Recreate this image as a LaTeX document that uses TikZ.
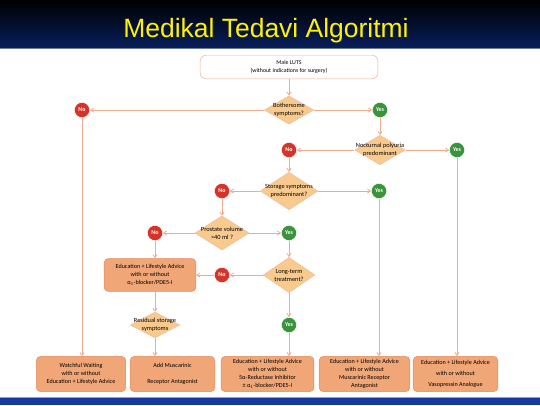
\documentclass[tikz,border=0pt]{standalone}
\usepackage{fontspec}
\setmainfont{Carlito}
\newfontfamily\titlefont{Liberation Sans}
\usepackage{tikz}
\usetikzlibrary{
	shapes.geometric,
	arrows.meta,
	positioning
}
\definecolor{arrowc}{RGB}{238,172,142}
\definecolor{boxfill}{RGB}{240,166,118}
\definecolor{boxdraw}{RGB}{226,140,92}
\definecolor{dfill}{RGB}{249,202,142}
\definecolor{redc}{RGB}{214,52,40}
\definecolor{greenc}{RGB}{58,148,60}
\definecolor{navy}{RGB}{8,30,92}
\definecolor{bandblue}{RGB}{22,58,160}

\begin{document}
\begin{tikzpicture}[
				x=0.85pt, y=-0.85pt,
				startbox/.style={
					rectangle, draw=arrowc, fill=white, rounded corners=5pt,
					minimum width=151pt, minimum height=20pt,
					align=center, font=\fontsize{5}{6.5}\selectfont
				},
				decision/.style={
					diamond, draw=boxdraw!60, fill=dfill, aspect=1.8,
					inner sep=-4pt, align=center,
					font=\fontsize{5.4}{6.8}\selectfont
				},
				treat/.style={
					rectangle, draw=boxdraw, fill=boxfill, rounded corners=3.5pt,
					minimum width=76pt, minimum height=30pt, inner sep=1pt,
					align=center, font=\fontsize{5.2}{6.6}\selectfont
				},
				nonode/.style={
					circle, fill=redc, draw=white, line width=0.4pt,
					minimum size=13pt, inner sep=0pt,
					text=white, font=\fontsize{5}{6}\selectfont\bfseries
				},
				yesnode/.style={
					nonode, fill=greenc
				},
				arrow/.style={-{Straight Barb[length=2.6pt,width=3.6pt]}, draw=arrowc, line width=0.7pt}
				]
				\useasboundingbox (0,0) rectangle (540,405);
				
				% title band
				\shade[top color=black, bottom color=navy] (0,0) rectangle (540,48);
				\draw[navy!60!white, line width=0.6pt] (0,48.5) -- (540,48.5);
				\node[text=yellow, font=\titlefont\fontsize{22.5}{24}\selectfont] (title) at (266,31) {Medikal Tedavi Algoritmi};
				
				% bottom band
				\fill[bandblue] (0,397) rectangle (540,405);
				\draw[bandblue!50!white, line width=0.6pt] (0,397.5) -- (540,397.5);
				
				% start
				\node[startbox] (luts) at (289,67) {Male LUTS\\(without indications for surgery)};
				
				% questions
				\node[decision, minimum width=42pt, minimum height=24pt] (q1) at (289,110) {Bothersome\\symptoms?};
				\node[decision, minimum width=43pt, minimum height=25pt] (q2) at (380,150) {Nocturnal polyuria\\predominant};
				\node[decision, minimum width=49pt, minimum height=32pt] (q3) at (289,191) {Storage symptoms\\predominant?};
				\node[decision, minimum width=46pt, minimum height=29pt] (q4) at (222,233) {Prostate volume\\>40 ml ?};
				\node[decision, minimum width=44pt, minimum height=30pt] (q5) at (289,275) {Long-term\\treatment?};
				\node[decision, minimum width=42pt, minimum height=22pt] (q6) at (155,325) {Residual storage\\symptoms};
				
				% yes / no
				\node[nonode] (no1) at (82,110) {No};
				\node[yesnode] (yes1) at (380,110) {Yes};
				\node[nonode] (no2) at (289,150) {No};
				\node[yesnode] (yes2) at (457,150) {Yes};
				\node[nonode] (no3) at (222,191) {No};
				\node[yesnode] (yes3) at (379,191) {Yes};
				\node[nonode] (no4) at (155,233) {No};
				\node[yesnode] (yes4) at (289,233) {Yes};
				\node[nonode] (no5) at (222,275) {No};
				\node[yesnode] (yes5) at (289,325) {Yes};
				
				% middle treatment
				\node[treat, minimum width=78pt, minimum height=28pt] (edu) at (150,275)
					{Education + Lifestyle Advice\\with or without\\α\textsubscript{1}-blocker/PDE5-I};
				
				% final treatments
				\node[treat] (t1) at (81,374) {Watchful Waiting\\with or without\\Education + Lifestyle Advice};
				\node[treat, minimum width=72pt] (t2) at (172.5,374) {Add Muscarinic\\[6.6pt]Receptor Antagonist};
				\node[treat, minimum width=79pt] (t3) at (267.5,374) {Education + Lifestyle Advice\\with or without\\5α-Reductase Inhibitor\\± α\textsubscript{1}-blocker/PDE5-I};
				\node[treat, minimum width=77pt] (t4) at (364.5,374) {Education + Lifestyle Advice\\with or without\\Muscarinic Receptor\\Antagonist};
				\node[treat, minimum width=72pt] (t5) at (455.5,374) {Education + Lifestyle Advice\\[2.5pt]with or without\\[2.5pt]Vasopressin Analogue};
				
				% connectors
				\draw[arrow] (luts) -- (q1);
				\draw[arrow] (q1) -- (no1);
				\draw[arrow] (q1) -- (yes1);
				\draw[arrow] (no1) -- (no1 |- t1.north);
				\draw[arrow] (yes1) -- (q2);
				\draw[arrow] (q2) -- (no2);
				\draw[arrow] (q2) -- (yes2);
				\draw[arrow] (yes2) -- (yes2 |- t5.north);
				\draw[arrow] (no2) -- (q3);
				\draw[arrow] (q3) -- (yes3);
				\draw[arrow] (q3) -- (no3);
				\draw[arrow] (yes3) -- (yes3 |- t4.north);
				\draw[arrow] (no3) -- (q4);
				\draw[arrow] (q4) -- (no4);
				\draw[arrow] (q4) -- (yes4);
				\draw[arrow] (no4) -- (no4 |- edu.north);
				\draw[arrow] (yes4) -- (q5);
				\draw[arrow] (q5) -- (no5);
				\draw[arrow] (no5) -- (edu);
				\draw[arrow] (q5) -- (yes5);
				\draw[arrow] (yes5) -- (yes5 |- t3.north);
				\draw[arrow] (q6 |- edu.south) -- (q6);
				\draw[arrow] (q6) -- (q6 |- t2.north);
			\end{tikzpicture}
\end{document}
